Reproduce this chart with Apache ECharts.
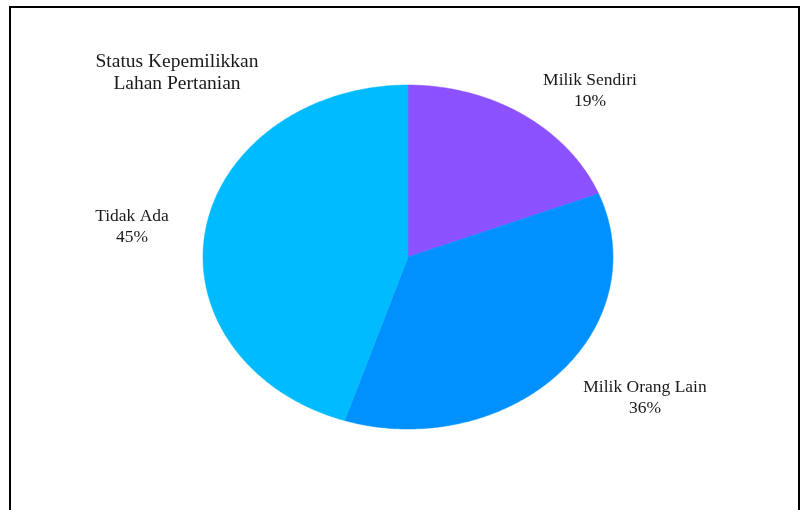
<!DOCTYPE html>
<html>
<head>
<meta charset="utf-8">
<script src="https://cdn.jsdelivr.net/npm/echarts@6/dist/echarts.min.js"></script>
<style>
  html, body { margin: 0; padding: 0; background: #fff; }
  #chart { width: 802px; height: 510px; }
</style>
</head>
<body>
<div id="chart"></div>
<script>
// Status kepemilikan lahan pertanian (persen responden)
const categories = ['Milik Sendiri', 'Milik Orang Lain', 'Tidak Ada'];
const shares = [19, 36, 45];
const sliceColors = ['#8C52FF', '#0091FF', '#00BBFF'];

// Ellipse geometry of the pie and label anchors (layout only)
const PIE = { cx: 408, cy: 257, rx: 205, ry: 172 };
const labelAnchors = [[590, 91], [645, 398], [132, 227]];

const total = shares.reduce((a, b) => a + b, 0);

function renderSlice(params, api) {
  const i = params.dataIndex;
  let before = 0;
  for (let k = 0; k < i; k++) before += shares[k];
  const v = api.value(0);
  const a0 = before / total * Math.PI * 2;
  const a1 = (before + v) / total * Math.PI * 2;
  const steps = Math.max(8, Math.ceil((a1 - a0) / 0.01));
  const pts = [[PIE.cx, PIE.cy]];
  for (let s = 0; s <= steps; s++) {
    const a = a0 + (a1 - a0) * s / steps;
    // clockwise from 12 o'clock
    pts.push([PIE.cx + PIE.rx * Math.sin(a), PIE.cy - PIE.ry * Math.cos(a)]);
  }
  const pct = Math.round(v / total * 100);
  return {
    type: 'group',
    children: [
      {
        type: 'polygon',
        shape: { points: pts },
        style: { fill: sliceColors[i], stroke: sliceColors[i], lineWidth: 0.5 }
      },
      {
        type: 'text',
        x: labelAnchors[i][0],
        y: labelAnchors[i][1],
        style: {
          text: categories[i] + '\n' + pct + '%',
          fill: '#1a1a1a',
          font: '17.5px "Liberation Serif", "DejaVu Serif", serif',
          lineHeight: 21,
          align: 'center',
          verticalAlign: 'middle'
        }
      }
    ]
  };
}

const chart = echarts.init(document.getElementById('chart'), null, { renderer: 'canvas' });
chart.setOption({
  backgroundColor: '#ffffff',
  animation: false,
  title: {
    text: 'Status Kepemilikkan\nLahan Pertanian',
    left: 172,
    top: 46,
    textAlign: 'center',
    textStyle: {
      fontFamily: '"Liberation Serif", "DejaVu Serif", serif',
      fontWeight: 'normal',
      fontSize: 19.5,
      lineHeight: 22,
      color: '#1a1a1a'
    }
  },
  graphic: [
    {
      type: 'rect',
      shape: { x: 10, y: 7, width: 789, height: 520 },
      style: { fill: 'none', stroke: '#000', lineWidth: 2 },
      silent: true
    }
  ],
  series: [
    {
      type: 'custom',
      coordinateSystem: 'none',
      renderItem: renderSlice,
      data: shares.map((v, i) => ({ name: categories[i], value: [v] }))
    }
  ]
});
</script>
</body>
</html>
